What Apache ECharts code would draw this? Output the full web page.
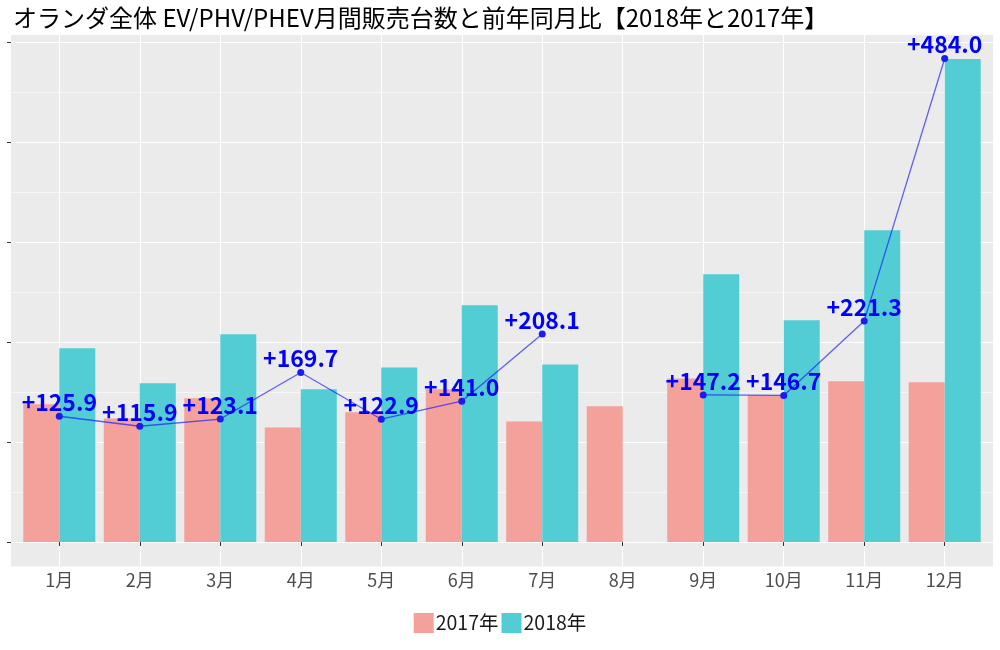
<!DOCTYPE html>
<html><head><meta charset="utf-8">
<script src="https://cdn.jsdelivr.net/npm/echarts@6/dist/echarts.min.js"></script>
<style>html,body{margin:0;padding:0;background:#fff}#c{width:1000px;height:650px}</style>
</head><body><div id="c"></div>
<script>
const months = [1,2,3,4,5,6,7,8,9,10,11,12];
const monthLabels = ['1月','2月','3月','4月','5月','6月','7月','8月','9月','10月','11月','12月'];
const sales2017 = [137.8,123.7,143.8,114.7,129.8,152.8,120.7,135.8,163.8,146.8,160.8,159.8];
const sales2018 = [193.9,158.8,207.9,152.8,174.8,237.0,177.8,null,268.0,222.0,312.0,483.5];
const yoy = [125.9,115.9,123.1,169.7,122.9,141.0,208.1,null,147.2,146.7,221.3,484.0];
const yTicks = [0,100,200,300,400,500];
const yMinor = [50,150,250,350,450];

const font = "'Noto Sans CJK JP', 'Noto Sans', sans-serif";
const pair = (arr) => months.map((m,i) => arr[i] == null ? [m,'-'] : [m, arr[i]]);

const chart = echarts.init(document.getElementById('c'));
chart.setOption({
  animation: false,
  backgroundColor: '#ffffff',
  textStyle: {fontFamily: font},
  title: {
    text: 'オランダ全体 EV/PHV/PHEV月間販売台数と前年同月比【2018年と2017年】',
    left: 8, top: 1,
    textStyle: {fontSize: 24, fontWeight: 'normal', color: '#000', fontFamily: font}
  },
  legend: {
    bottom: 12, left: 'center',
    itemWidth: 20, itemHeight: 20, itemGap: 3,
    icon: 'rect',
    textStyle: {fontSize: 19.5, color: '#1a1a1a', fontFamily: font, padding: [0,0,0,-3]},
    data: ['2017年','2018年']
  },
  grid: {left: 11, right: 7, top: 35, bottom: 83.5, containLabel: false,
         show: true, backgroundColor: '#EBEBEB', borderWidth: 0},
  xAxis: {
    type: 'value', min: 0.4, max: 12.6,
    axisLine: {show: false},
    axisTick: {show: true, length: 4, lineStyle: {color: '#333', width: 1}, customValues: months},
    axisLabel: {show: true, customValues: months, formatter: v => monthLabels[Math.round(v)-1] || '',
                color: '#4d4d4d', fontSize: 18, margin: 5, fontFamily: font},
    splitLine: {show: true, lineStyle: {color: '#ffffff', width: 1.1}}
  },
  yAxis: [{
    type: 'value', min: -24.5, max: 507.5,
    axisLine: {show: false},
    axisTick: {show: true, length: 4, lineStyle: {color: '#333', width: 1}, customValues: yTicks},
    axisLabel: {show: false, customValues: yTicks},
    splitLine: {show: true, lineStyle: {color: '#ffffff', width: 1.1}}
  },{
    type: 'value', min: -24.5, max: 507.5, position: 'left',
    axisLine: {show: false},
    axisTick: {show: false, customValues: yMinor},
    axisLabel: {show: false, customValues: yMinor},
    splitLine: {show: true, lineStyle: {color: '#ffffff', width: 0.55}}
  }],
  series: [
    {name: '2017年', type: 'bar', data: pair(sales2017), barWidth: 36, barGap: '0%',
     itemStyle: {color: '#F4A09B'}, z: 2},
    {name: '2018年', type: 'bar', data: pair(sales2018).filter(d => d[1] !== '-'), barWidth: 36, barGap: '0%',
     itemStyle: {color: '#53CDD4'}, z: 2},
    {name: '前年同月比', type: 'line', data: pair(yoy), connectNulls: false,
     symbol: 'circle', symbolSize: 7,
     lineStyle: {color: 'rgba(20,20,255,0.65)', width: 1.3},
     itemStyle: {color: '#1c1cf0'},
     label: {show: true, position: 'top', distance: -1,
             formatter: p => '+' + p.value[1].toFixed(1),
             color: '#0000ff', fontWeight: 'bold', fontSize: 23, fontFamily: font},
     z: 5}
  ]
});
</script></body></html>
